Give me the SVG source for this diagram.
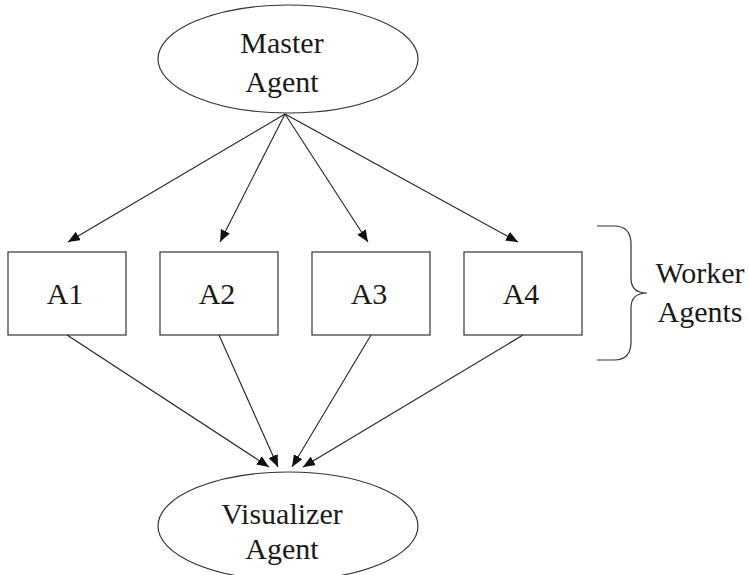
<svg xmlns="http://www.w3.org/2000/svg" width="749" height="575" viewBox="0 0 749 575">
<style>
.n{fill:#fff;stroke:#333;stroke-width:1.2}
.t{font-family:"Liberation Serif","Times New Roman",serif;font-size:30px;fill:#1a1a1a;text-anchor:middle}
.c line{stroke:#222;stroke-width:1.1;marker-end:url(#ah)}
</style>
<defs>
<marker id="ah" markerWidth="12" markerHeight="10" refX="12" refY="5" orient="auto" markerUnits="userSpaceOnUse">
<path d="M0,0 L12,5 L0,10 Z" fill="#111"/>
</marker>
</defs>
<rect width="749" height="575" fill="#fff"/>
<g id="master">
<ellipse class="n" cx="288" cy="59" rx="130" ry="54"/>
<text class="t" x="282" y="53">Master</text>
<text class="t" x="282" y="92">Agent</text>
</g>
<g id="a1"><rect class="n" x="8" y="252" width="118" height="83"/><text class="t" x="65" y="304">A1</text></g>
<g id="a2"><rect class="n" x="160" y="252" width="118" height="83"/><text class="t" x="217" y="304">A2</text></g>
<g id="a3"><rect class="n" x="312" y="252" width="118" height="83"/><text class="t" x="369" y="304">A3</text></g>
<g id="a4"><rect class="n" x="464" y="252" width="118" height="83"/><text class="t" x="521" y="304">A4</text></g>
<g id="visualizer">
<ellipse class="n" cx="288" cy="526" rx="130" ry="54"/>
<text class="t" x="282" y="524">Visualizer</text>
<text class="t" x="282" y="559">Agent</text>
</g>
<g id="workers">
<path d="M597,226 L614,226 Q631,226 631,244 L631,278 Q631,293 647,293 Q631,293 631,308 L631,342 Q631,360 614,360 L597,360" fill="none" stroke="#333" stroke-width="1.2"/>
<text class="t" x="700" y="283">Worker</text>
<text class="t" x="700" y="322">Agents</text>
</g>
<g class="c" id="connectors">
<line x1="285" y1="114" x2="68" y2="242"/>
<line x1="285" y1="114" x2="220" y2="242"/>
<line x1="285" y1="114" x2="368" y2="242"/>
<line x1="285" y1="114" x2="518" y2="242"/>
<line x1="67" y1="335" x2="269" y2="467"/>
<line x1="219" y1="335" x2="278" y2="467"/>
<line x1="371" y1="335" x2="292" y2="467"/>
<line x1="523" y1="335" x2="303" y2="467"/>
</g>
</svg>
